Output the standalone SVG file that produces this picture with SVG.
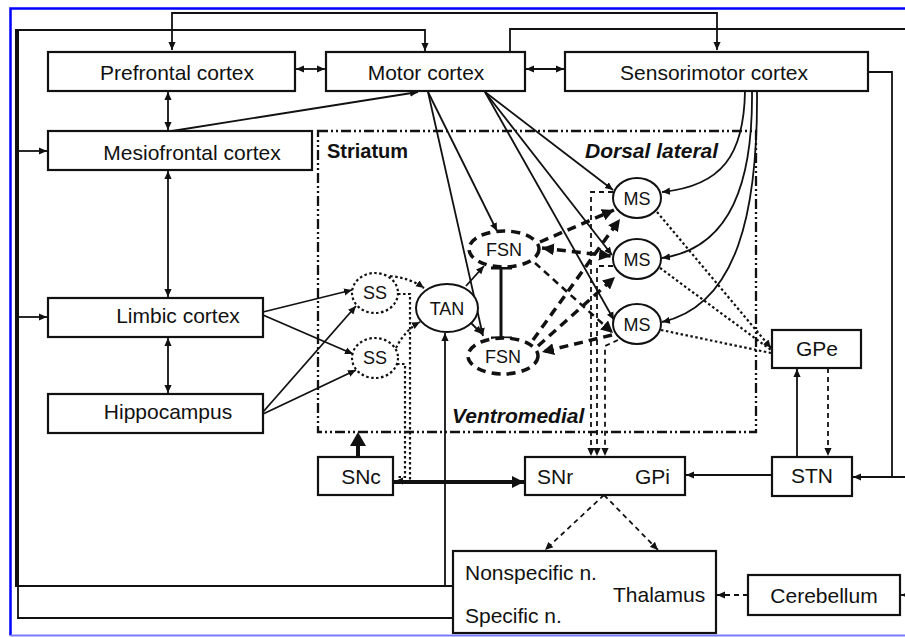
<svg xmlns="http://www.w3.org/2000/svg" width="905" height="637" viewBox="0 0 905 637">
<defs>
<style>
text{font-family:"Liberation Sans",Arial,sans-serif;fill:#111}
.lbl{font-size:21px}
.sm{font-size:18px}
.b{font-weight:bold;font-size:20px}
.bi{font-weight:bold;font-style:italic;font-size:21px}
.box{fill:#fff;stroke:#111;stroke-width:2.2}
.c path,.c line{fill:none;stroke:#111;stroke-width:1.8}
.c .dot{stroke-dasharray:2.5 2.5;stroke-width:2.2}
.c .dsh{stroke-dasharray:5 4}
.c .tk{stroke-width:3.5;stroke-dasharray:9 6}
.c .md{stroke-width:2.5;stroke-dasharray:7 5}
.c .heavy{stroke-width:4}
</style>
<marker id="a" viewBox="0 0 10 10" refX="10" refY="5" markerWidth="8" markerHeight="8" markerUnits="userSpaceOnUse" orient="auto-start-reverse"><path d="M0,0.5 L10,5 L0,9.5 z" fill="#111"/></marker>
<marker id="ab" viewBox="0 0 10 10" refX="10" refY="5" markerWidth="12" markerHeight="12" markerUnits="userSpaceOnUse" orient="auto-start-reverse"><path d="M0,0 L10,5 L0,10 z" fill="#111"/></marker>
</defs>
<rect width="905" height="637" fill="#fff"/>
<path d="M905,8.5 H10.5 V635.5" fill="none" stroke="#0000ff" stroke-width="2.5"/>
<path d="M10.5,635.5 H905" fill="none" stroke="#7b7bff" stroke-width="2"/>

<g id="striatum">
<rect x="318" y="131" width="438" height="301" fill="none" stroke="#111" stroke-width="2.3" stroke-dasharray="10 3 2 3 2 3"/>
<text class="b" x="327" y="158">Striatum</text>
<text class="bi" x="585" y="158">Dorsal lateral</text>
<text class="bi" x="452" y="423">Ventromedial</text>
</g>

<g class="c" id="connectors">
<path d="M172,50 V13 H717 V50" marker-start="url(#a)" marker-end="url(#a)"/>
<path d="M18,30 H425 V51" marker-end="url(#a)"/>
<line x1="17" y1="29" x2="17" y2="587" class="heavy"/>
<path d="M18,586 V618"/>
<path d="M18,151 H47" marker-end="url(#a)"/>
<path d="M18,317 H47" marker-end="url(#a)"/>
<path d="M453,586 H17"/>
<path d="M453,618 H17"/>
<path d="M445,586 V333" marker-end="url(#a)"/>
<path d="M510,52 V29 H905"/>
<path d="M868,72 H892 V477"/>
<path d="M905,477 H853" marker-end="url(#a)"/>
<path d="M296,69 H325" marker-start="url(#a)" marker-end="url(#a)"/>
<path d="M526,69 H564" marker-start="url(#a)" marker-end="url(#a)"/>
<path d="M168,92 V130" marker-start="url(#a)" marker-end="url(#a)"/>
<path d="M172,131 L418,92" marker-end="url(#a)"/>
<path d="M168,171 V297" marker-start="url(#a)" marker-end="url(#a)"/>
<path d="M168,338 V393" marker-start="url(#a)" marker-end="url(#a)"/>
<path d="M263,312 L352,290" marker-end="url(#a)"/>
<path d="M263,315 L353,354" marker-end="url(#a)"/>
<path d="M263,412 L356,306" marker-end="url(#a)"/>
<path d="M263,414 L356,370" marker-end="url(#a)"/>
<path d="M428,92 L483,336" marker-end="url(#a)"/>
<path d="M428,92 L497,231" marker-end="url(#a)"/>
<path d="M485,92 L613,190" marker-end="url(#a)"/>
<path d="M485,92 L612,255" marker-end="url(#a)"/>
<path d="M485,92 L614,320" marker-end="url(#a)"/>
<path d="M745,91 C744,155 722,186 662,192" marker-end="url(#a)"/>
<path d="M752,91 C753,180 732,248 662,258" marker-end="url(#a)"/>
<path d="M757,91 C758,210 738,305 662,322" marker-end="url(#a)"/>
<path d="M466,286 L484,266" marker-end="url(#a)"/>
<path d="M470,322 L482,334" marker-end="url(#a)"/>
<path class="dot" d="M390,276 Q410,278 424,288" marker-end="url(#a)"/>
<path class="dot" d="M396,348 Q405,330 420,322" marker-end="url(#a)"/>
<path class="dot" d="M398,294 H410 V481 H395" marker-end="url(#a)"/>
<path class="dot" d="M397,364 H405 V477 H396"/>
<path d="M501,268 V338 M491,268 H512 M491,338 H512" style="stroke-width:3"/>
<path class="dot" d="M657,212 L771,348" marker-end="url(#a)"/>
<path class="dot" d="M660,268 L771,350"/>
<path class="dot" d="M661,330 L771,353"/>
<path class="dsh" d="M613,192 H591 V456" marker-end="url(#a)"/>
<path class="dsh" d="M613,266 H597 V456" marker-end="url(#a)"/>
<path class="dsh" d="M618,340 L605,346 V456" marker-end="url(#a)"/>
<path class="dsh" d="M828,368 V456" marker-end="url(#a)"/>
<path d="M797,457 V369" marker-end="url(#a)"/>
<path d="M772,475 H686" marker-end="url(#a)"/>
<path class="heavy" d="M394,482 H524" marker-end="url(#ab)"/>
<path class="heavy" d="M358,457 V444"/>
<path class="dsh" d="M604,495 L545,550" marker-end="url(#a)"/>
<path class="dsh" d="M604,495 L658,550" marker-end="url(#a)"/>
<path class="dsh" d="M748,595 H717" marker-end="url(#a)"/>
<path d="M905,595 H901" marker-end="url(#a)"/>
<path class="tk" d="M540,242 L614,210" marker-end="url(#ab)"/>
<path class="tk" d="M542,248 L611,256" marker-start="url(#ab)" marker-end="url(#ab)"/>
<path class="md" d="M535,263 L613,333" marker-end="url(#ab)"/>
<path class="tk" d="M533,340 L620,219" marker-end="url(#ab)"/>
<path class="tk" d="M538,346 L615,277" marker-end="url(#ab)"/>
<path class="tk" d="M612,335 L542,352" marker-end="url(#ab)"/>
</g>
<polygon points="350,446 366,446 358,432" fill="#111"/>

<g id="prefrontal"><rect class="box" x="48" y="52" width="247" height="39"/><text class="lbl" x="177" y="80" text-anchor="middle">Prefrontal cortex</text></g>
<g id="motor"><rect class="box" x="326" y="52" width="199" height="39"/><text class="lbl" x="426" y="80" text-anchor="middle">Motor cortex</text></g>
<g id="sensorimotor"><rect class="box" x="565" y="52" width="303" height="39"/><text class="lbl" x="714" y="80" text-anchor="middle">Sensorimotor cortex</text></g>
<g id="mesiofrontal"><rect class="box" x="48" y="131" width="264" height="39"/><text class="lbl" x="192" y="160" text-anchor="middle">Mesiofrontal cortex</text></g>
<g id="limbic"><rect class="box" x="48" y="298" width="215" height="39"/><text class="lbl" x="178" y="323" text-anchor="middle">Limbic cortex</text></g>
<g id="hippocampus"><rect class="box" x="48" y="394" width="215" height="39"/><text class="lbl" x="168" y="419" text-anchor="middle">Hippocampus</text></g>

<g id="ss1"><ellipse cx="375" cy="293" rx="23" ry="20" fill="#fff" stroke="#111" stroke-width="2.2" stroke-dasharray="2.5 2.5"/><text class="sm" x="375" y="299" text-anchor="middle">SS</text></g>
<g id="ss2"><ellipse cx="375" cy="358" rx="23" ry="20" fill="#fff" stroke="#111" stroke-width="2.2" stroke-dasharray="2.5 2.5"/><text class="sm" x="375" y="364" text-anchor="middle">SS</text></g>
<g id="tan"><ellipse cx="447" cy="308" rx="31" ry="24" fill="#fff" stroke="#111" stroke-width="2"/><text x="447" y="315" text-anchor="middle" style="font-size:18px">TAN</text></g>
<g id="fsn1"><ellipse cx="504" cy="249" rx="35" ry="18" fill="#fff" stroke="#111" stroke-width="3.5" stroke-dasharray="9 6"/><text class="sm" x="504" y="256" text-anchor="middle">FSN</text></g>
<g id="fsn2"><ellipse cx="503" cy="356" rx="35" ry="18" fill="#fff" stroke="#111" stroke-width="3.5" stroke-dasharray="9 6"/><text class="sm" x="503" y="363" text-anchor="middle">FSN</text></g>
<g id="ms1"><ellipse cx="637" cy="198" rx="24" ry="20" fill="#fff" stroke="#111" stroke-width="2"/><text x="637" y="205" text-anchor="middle" style="font-size:18px">MS</text></g>
<g id="ms2"><ellipse cx="637" cy="259" rx="24" ry="20" fill="#fff" stroke="#111" stroke-width="2"/><text x="637" y="266" text-anchor="middle" style="font-size:18px">MS</text></g>
<g id="ms3"><ellipse cx="637" cy="324" rx="24" ry="20" fill="#fff" stroke="#111" stroke-width="2"/><text x="637" y="331" text-anchor="middle" style="font-size:18px">MS</text></g>

<g id="gpe"><rect class="box" x="772" y="330" width="89" height="38"/><text class="lbl" x="817" y="356" text-anchor="middle">GPe</text></g>
<g id="stn"><rect class="box" x="772" y="457" width="80" height="39"/><text class="lbl" x="812" y="483" text-anchor="middle">STN</text></g>
<g id="snr-gpi"><rect class="box" x="525" y="457" width="160" height="38"/><text class="lbl" x="537" y="484">SNr</text><text class="lbl" x="635" y="484">GPi</text></g>
<g id="snc"><rect class="box" x="318" y="457" width="75" height="38"/><text class="lbl" x="361" y="484" text-anchor="middle">SNc</text></g>
<g id="thalamus"><rect class="box" x="453" y="551" width="263" height="82"/><text class="lbl" x="465" y="580">Nonspecific n.</text><text class="lbl" x="613" y="602">Thalamus</text><text class="lbl" x="465" y="623">Specific n.</text></g>
<g id="cerebellum"><rect class="box" x="748" y="575" width="152" height="40"/><text class="lbl" x="824" y="603" text-anchor="middle">Cerebellum</text></g>
</svg>
